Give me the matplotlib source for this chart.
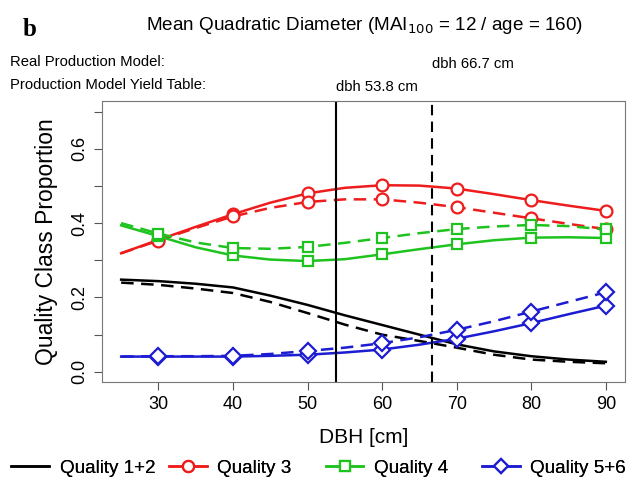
import matplotlib.pyplot as plt
from matplotlib.lines import Line2D

plt.rcParams['font.family'] = ['Liberation Sans', 'DejaVu Sans']

# curve values read every 5 cm
dbh_curve = [25, 30, 35, 40, 45, 50, 55, 60, 65, 70, 75, 80, 85, 90]
q12_real = [.248, .244, .237, .227, .205, .180, .152, .126, .100, .074, .055, .042, .033, .027]
q12_table = [.240, .234, .224, .212, .188, .158, .127, .100, .083, .065, .046, .033, .027, .023]
q3_real = [.319, .355, .390, .424, .455, .480, .495, .502, .501, .493, .478, .462, .447, .433]
q3_table = [.319, .353, .387, .418, .441, .457, .464, .464, .455, .443, .428, .413, .398, .384]
q4_real = [.394, .365, .335, .313, .302, .298, .303, .316, .330, .343, .354, .361, .362, .360]
q4_table = [.400, .372, .348, .333, .331, .336, .347, .360, .373, .384, .391, .395, .392, .383]
q56_real = [.041, .041, .041, .041, .043, .046, .052, .060, .073, .089, .109, .131, .155, .178]
q56_table = [.041, .042, .042, .043, .048, .056, .065, .077, .093, .113, .136, .162, .188, .214]

dbh_real = 66.7
dbh_table = 53.8

red = '#ee1c1c'
green = '#1ec31e'
blue = '#1c1cd2'

fig = plt.figure(figsize=(6.36, 4.82), dpi=100)
ax = fig.add_axes([0.160, 0.207, 0.823, 0.583])

ax.plot(dbh_curve, q12_real, color='black', lw=1.8)
ax.plot(dbh_curve, q12_table, color='black', lw=1.8, ls=(0, (5, 3)))

series = [(q3_real, q3_table, red, 'o', 8.5),
          (q4_real, q4_table, green, 's', 7),
          (q56_real, q56_table, blue, 'D', 8)]
for real, table, col, mk, ms in series:
    ax.plot(dbh_curve, real, color=col, lw=1.8)
    ax.plot(dbh_curve, table, color=col, lw=1.8, ls=(0, (5, 3)))
    # markers at every 10 cm
    ax.plot(dbh_curve[1::2], real[1::2], ls='none', marker=mk, ms=ms,
            mfc='white', mec=col, mew=1.6)
    ax.plot(dbh_curve[1::2], table[1::2], ls='none', marker=mk, ms=ms,
            mfc='white', mec=col, mew=1.6)

ax.axvline(dbh_table, color='black', lw=1.5)
ax.axvline(dbh_real, color='black', lw=1.5, ls=(0, (5, 3)))

ax.set_xlim(22.4, 92.6)
ax.set_ylim(-0.028, 0.728)
ax.set_xticks(range(30, 91, 10))
ax.set_yticks([0, 0.1, 0.2, 0.3, 0.4, 0.5, 0.6, 0.7])
ax.set_yticklabels(['0.0', '', '0.2', '', '0.4', '', '0.6', ''], rotation=90, va='center')
ax.tick_params(labelsize=13, length=6, color='#555555', direction='out', pad=4)
for s in ax.spines.values():
    s.set_color('#777777')
ax.set_xlabel('DBH [cm]', fontsize=15, labelpad=11)
ax.set_ylabel('Quality Class Proportion', fontsize=16.5, labelpad=9)

fig.text(0.036, 0.938, 'b', fontsize=18, fontweight='bold', family='Liberation Serif', va='center')
fig.text(0.573, 0.947, 'Mean Quadratic Diameter (MAI$_{100}$ = 12 / age = 160)',
         fontsize=13.6, ha='center', va='center')
fig.text(0.015, 0.871, 'Real Production Model:', fontsize=10.7, va='center')
fig.text(0.015, 0.824, 'Production Model Yield Table:', fontsize=10.7, va='center')
ax.text(dbh_real, 1.132, 'dbh 66.7 cm', transform=ax.get_xaxis_transform(), fontsize=10.7, va='center')
ax.text(dbh_table, 1.05, 'dbh 53.8 cm', transform=ax.get_xaxis_transform(), fontsize=10.7, va='center')

handles = [Line2D([], [], color='black', lw=1.8),
           Line2D([], [], color=red, lw=1.8, marker='o', ms=8, mfc='white', mec=red, mew=1.6),
           Line2D([], [], color=green, lw=1.8, marker='s', ms=7, mfc='white', mec=green, mew=1.6),
           Line2D([], [], color=blue, lw=1.8, marker='D', ms=7, mfc='white', mec=blue, mew=1.6)]
labels = ['Quality 1+2', 'Quality 3', 'Quality 4', 'Quality 5+6']
legend_x = [0.018, 0.266, 0.512, 0.758]
for h, lab, lx in zip(handles, labels, legend_x):
    leg = fig.legend([h], [lab], loc='center left', bbox_to_anchor=(lx, 0.029),
                     frameon=False, fontsize=13.6, handlelength=2.0, handletextpad=0.55,
                     borderaxespad=0, borderpad=0)
    fig.add_artist(leg)

fig.savefig('out.png', dpi=100)
